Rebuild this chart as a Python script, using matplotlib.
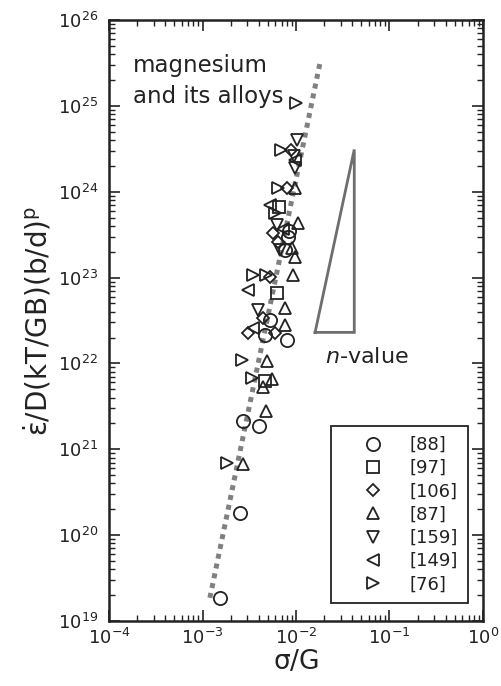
import matplotlib
matplotlib.use("Agg")
import matplotlib.pyplot as plt
from matplotlib.ticker import LogLocator, NullFormatter, LogFormatterSciNotation

plt.rcParams['font.family'] = ['DejaVu Sans']
plt.rcParams['mathtext.fontset'] = 'dejavusans'
plt.rcParams['mathtext.default'] = 'regular'

# ---- data (sigma/G, normalized strain rate) ----
ref88_x = [1.55e-3, 2.51e-3, 2.69e-3, 4.07e-3, 7.98e-3, 5.25e-3, 8.13e-3, 4.68e-3, 8.51e-3, 7.59e-3]
ref88_y = [1.86e19, 1.82e20, 2.14e21, 1.86e21, 1.86e22, 3.24e22, 2.95e23, 2.14e22, 3.47e23, 2.09e23]

ref97_x = [6.61e-3, 6.31e-3, 4.68e-3]
ref97_y = [6.61e23, 6.61e22, 6.17e21]

ref106_x = [7.94e-3, 8.91e-3, 5.25e-3, 5.62e-3, 6.46e-3, 4.47e-3, 3.09e-3, 5.89e-3]
ref106_y = [1.10e24, 3.09e24, 1.02e23, 3.31e23, 2.63e23, 3.39e22, 2.29e22, 2.29e22]

ref87_x = [9.77e-3, 1.05e-2, 9.12e-3, 9.77e-3, 9.33e-3, 7.59e-3, 7.59e-3, 4.90e-3, 5.50e-3, 4.47e-3, 4.79e-3, 2.69e-3]
ref87_y = [1.10e24, 4.37e23, 2.24e23, 1.74e23, 1.07e23, 4.47e22, 2.82e22, 1.07e22, 6.61e21, 5.37e21, 2.82e21, 6.76e20]

ref159_x = [1.02e-2, 9.77e-3, 6.31e-3, 6.76e-3, 3.89e-3, 9.55e-3]
ref159_y = [3.98e24, 1.91e24, 4.07e23, 2.09e23, 4.17e22, 2.60e24]

ref149_x = [5.25e-3, 3.09e-3, 9.77e-3, 7.24e-3, 3.47e-3]
ref149_y = [7.08e23, 7.24e22, 2.34e24, 3.63e23, 2.60e22]

ref76_x = [1.00e-2, 6.92e-3, 6.46e-3, 5.89e-3, 3.47e-3, 4.79e-3, 2.63e-3, 3.39e-3, 1.82e-3]
ref76_y = [1.07e25, 3.09e24, 1.10e24, 5.62e23, 1.07e23, 1.07e23, 1.10e22, 6.76e21, 6.92e20]

fit_x = [1.20e-3, 1.83e-2]
fit_y = [1.86e19, 3.40e25]

slope_tri_x = [0.016, 0.042, 0.042, 0.016]
slope_tri_y = [2.3e22, 2.3e22, 3.1e24, 2.3e22]

x_ticks = [1e-4, 1e-3, 1e-2, 1e-1, 1e0]
y_ticks = [1e19, 1e20, 1e21, 1e22, 1e23, 1e24, 1e25, 1e26]

labels = ['[88]', '[97]', '[106]', '[87]', '[159]', '[149]', '[76]']
markers = ['o', 's', 'D', '^', 'v', '<', '>']
sizes = [9.5, 9.0, 6.6, 9.0, 9.0, 9.0, 9.0]
series = [(ref88_x, ref88_y), (ref97_x, ref97_y), (ref106_x, ref106_y),
          (ref87_x, ref87_y), (ref159_x, ref159_y), (ref149_x, ref149_y),
          (ref76_x, ref76_y)]

ink = '#222222'

fig = plt.figure(figsize=(5.01, 6.86), dpi=100)
ax = fig.add_axes([109/501, 1-621/686, 374/501, 601/686])

ax.plot(fit_x, fit_y, color='#808080', lw=3.6, linestyle=(0, (1, 1)),
        solid_capstyle='butt', dash_capstyle='butt', zorder=1)

handles = []
for (xs, ys), m, s, lab in zip(series, markers, sizes, labels):
    h, = ax.plot(xs, ys, linestyle='none', marker=m, ms=s, mfc='none',
                 mec=ink, mew=1.3, label=lab, zorder=3)
    handles.append(h)

ax.plot(slope_tri_x, slope_tri_y, color='#6e6e6e', lw=2.0, zorder=2,
        solid_joinstyle='miter')

ax.set_xscale('log')
ax.set_yscale('log')
ax.set_xlim(1e-4, 1e0)
ax.set_ylim(1e19, 1e26)

ax.set_xticks(x_ticks)
ax.set_yticks(y_ticks)
ax.xaxis.set_major_formatter(LogFormatterSciNotation())
ax.yaxis.set_major_formatter(LogFormatterSciNotation())
ax.xaxis.set_minor_locator(LogLocator(base=10, subs=range(2, 10), numticks=20))
ax.yaxis.set_minor_locator(LogLocator(base=10, subs=range(2, 10), numticks=20))
ax.xaxis.set_minor_formatter(NullFormatter())
ax.yaxis.set_minor_formatter(NullFormatter())
ax.set_xlim(1e-4, 1e0)
ax.set_ylim(1e19, 1e26)

ax.tick_params(which='both', direction='in', top=True, right=True, colors=ink)
ax.tick_params(which='major', length=8, width=1.2, labelsize=13)
ax.tick_params(which='minor', length=4, width=1.0)
ax.tick_params(axis='y', which='major', pad=8)
ax.tick_params(axis='x', which='major', pad=5)
for sp in ax.spines.values():
    sp.set_linewidth(1.8)
    sp.set_color(ink)

ax.set_xlabel(r'$\sigma$/G', fontsize=19, color=ink, labelpad=1)
ax.set_ylabel(r'$\dot{\varepsilon}$/D(kT/GB)(b/d)$^{p}$', fontsize=20,
              color=ink, labelpad=3)

ax.text(0.064, 0.899, 'magnesium\nand its alloys', transform=ax.transAxes,
        fontsize=16.5, color=ink, va='center', ha='left', linespacing=1.45)
ax.text(0.578, 0.439, r'$\it{n}$-value', transform=ax.transAxes, fontsize=16,
        color=ink, va='center', ha='left')

leg = ax.legend(handles=handles, loc='upper left',
                bbox_to_anchor=(222/374, 195/601), borderaxespad=0,
                fontsize=13, frameon=True, fancybox=False, framealpha=1,
                edgecolor=ink, borderpad=0.55, labelspacing=0.29,
                handlelength=3.6, handletextpad=0.2)
leg.get_frame().set_linewidth(1.3)
for t in leg.get_texts():
    t.set_color(ink)

fig.savefig('out.png', dpi=100)
